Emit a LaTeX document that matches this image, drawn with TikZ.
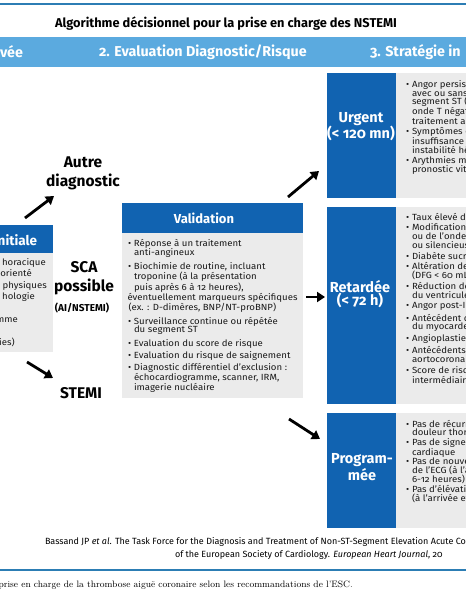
\documentclass[tikz,border=0pt]{standalone}
\usepackage{fontspec}
\setsansfont{Fira Sans}[Numbers=OldStyle]
\newfontfamily\lstfont{Fira Sans}[Numbers=OldStyle, FakeStretch=1.08]
\usetikzlibrary{arrows.meta}
\definecolor{band}{HTML}{5BAADF}
\definecolor{dblue}{HTML}{1163B1}
\definecolor{lgray}{HTML}{EBEBEB}
\definecolor{rule}{HTML}{2C7DB4}
\newcommand{\bu}{\makebox[6pt][l]{•}}
\newcommand{\ct}{\hspace*{6pt}}
\begin{document}
\begin{tikzpicture}[x=1pt,y=-1pt,
  every node/.style={inner sep=0pt, outer sep=0pt},
  bigarrow/.style={line width=2.8pt, -{Triangle[length=8pt,width=10pt]}},
  lst/.style={anchor=north west, align=left, font=\lstfont\fontsize{8.9}{8.7}\selectfont, text=black!90},
  boxlabel/.style={font=\sffamily\bfseries\fontsize{14.5}{13.5}\selectfont, text=white, align=center},
  flowlabel/.style={font=\sffamily\bfseries\fontsize{15.5}{19}\selectfont, align=center},
  bandtext/.style={font=\sffamily\bfseries\fontsize{14.3}{14}\selectfont, text=white},
  panel/.style={anchor=north west, fill=#1},
]
\useasboundingbox (0,0) rectangle (466,600);
\clip (0,0) rectangle (466,600);
\fill[white] (0,0) rectangle (466,600);
% top rule and title
\draw[rule, line width=2pt] (0,4) -- (466,4);
\node[font=\sffamily\bfseries\fontsize{12.8}{13}\selectfont] (title) at (226,24) {Algorithme décisionnel pour la prise en charge des NSTEMI};
% header band
\node[panel=band, minimum width=466, minimum height=30] (band) at (0,37) {};
\node[bandtext, anchor=west] (h1) at (0,52) {vée};
\node[bandtext, anchor=west] (h2) at (99,52) {2. Evaluation Diagnostic/Risque};
\node[bandtext, anchor=west] (h3) at (370,52) {3. Stratégie in};
% left box
\node[panel=dblue, minimum width=53, minimum height=28] (inihead) at (0,225) {};
\node[panel=lgray, minimum width=53, minimum height=99] (inibody) at (0,253) {};
\node[font=\sffamily\bfseries\fontsize{13.5}{13}\selectfont, text=white, anchor=east] (initxt) at (37,240) {nitiale};
\begin{scope}[every node/.style={inner sep=0pt, font=\lstfont\fontsize{8.9}{8.7}\selectfont, text=black!90, anchor=base east}]
\node (i1) at (46,265.5) {horacique};
\node (i2) at (32,276.5) {orienté};
\node (i3) at (47,288) {s physiques};
\node (i4) at (35,299.5) {hologie};
\node (i5) at (18,322.5) {mme};
\node (i6) at (15,345.5) {ies)};
\end{scope}
% flow labels
\node[flowlabel] (autre) at (83,173.5) {Autre\\diagnostic};
\node[flowlabel] (sca) at (84,278) {SCA\\possible};
\node[font=\sffamily\bfseries\fontsize{10}{10}\selectfont] (ai) at (82,308) {(AI/NSTEMI)};
\node[flowlabel] (stemi) at (81,393) {STEMI};
% arrows
\coordinate (a1s) at (25,218); \coordinate (a1e) at (54,196);
\coordinate (a2s) at (27,362); \coordinate (a2e) at (53,378);
\coordinate (a3s) at (306,297); \coordinate (a3e) at (325,297);
\coordinate (a4s) at (288,197); \coordinate (a4e) at (319,171);
\coordinate (a5s) at (289,419); \coordinate (a5e) at (320,439);
\draw[bigarrow] (a1s) -- (a1e);
\draw[bigarrow] (a2s) -- (a2e);
\draw[bigarrow] (a3s) -- (a3e);
\draw[bigarrow] (a4s) -- (a4e);
\draw[bigarrow] (a5s) -- (a5e);
% validation box
\node[panel=dblue, minimum width=181, minimum height=30] (valhead) at (122,203) {};
\node[panel=lgray, minimum width=181, minimum height=165] (valbody) at (122,233) {};
\node[font=\sffamily\bfseries\fontsize{13}{13}\selectfont, text=white] (valtxt) at (204,218) {Validation};
\node[lst] (vallist) at (128,239) {\bu Réponse à un traitement\\
\ct anti-angineux\\[3.8pt]
\bu Biochimie de routine, incluant\\
\ct troponine (à la présentation\\
\ct puis après 6 à 12 heures),\\
\hspace*{-0.5pt}éventuellement marqueurs spécifiques\\
\hspace*{0.5pt}(ex. : D-dimères, BNP/NT-proBNP)\\[3.8pt]
\bu Surveillance continue ou répétée\\
\ct du segment ST\\[3.8pt]
\bu Evaluation du score de risque\\[1.8pt]
\bu Evaluation du risque de saignement\\[1.8pt]
\bu Diagnostic différentiel d’exclusion :\\
\ct échocardiogramme, scanner, IRM,\\
\ct imagerie nucléaire};
% urgent
\node[panel=dblue, minimum width=69, minimum height=125] (urgbox) at (327,73) {};
\node[panel=lgray, minimum width=70, minimum height=125] (urgbody) at (396,73) {};
\node[boxlabel] (urgtxt) at (361,126.5) {Urgent\\(< 120 mn)};
\node[lst] (urglist) at (406,80.5) {\bu Angor persist\\
\ct avec ou sans\\
\ct segment ST (\\
\ct onde T négati\\
\ct traitement an\\[1.2pt]
\bu Symptômes c\\
\ct insuffisance c\\
\ct instabilité hé\\[1.2pt]
\bu Arythmies m\\
\ct pronostic vita};
% retardee
\node[panel=dblue, minimum width=69, minimum height=197] (retbox) at (327,207) {};
\node[panel=lgray, minimum width=70, minimum height=197] (retbody) at (396,207) {};
\node[boxlabel] (rettxt) at (360,294) {Retardée\\(< 72 h)};
\node[lst] (retlist) at (406,213) {\bu Taux élevé de\\[2.1pt]
\bu Modifications\\
\ct ou de l’onde T\\
\ct ou silencieuse\\[2.1pt]
\bu Diabète sucré\\[2.1pt]
\bu Altération de\\
\ct (DFG < 60 mL\\[2.1pt]
\bu Réduction de\\
\ct du ventricule\\[2.1pt]
\bu Angor post-ID\\[2.1pt]
\bu Antécédent d\\
\ct du myocarde\\[2.1pt]
\bu Angioplastie\\[2.1pt]
\bu Antécédents\\
\ct aortocoronair\\[2.1pt]
\bu Score de risqu\\
\ct intermédiaire};
% programmee
\node[panel=dblue, minimum width=69, minimum height=115] (probox) at (327,413) {};
\node[panel=lgray, minimum width=70, minimum height=115] (probody) at (396,413) {};
\node[boxlabel] (protxt) at (362,467) {Program-\\mée};
\node[lst] (prolist) at (406,420) {\bu Pas de récurre\\
\ct douleur thora\\[0.7pt]
\bu Pas de signe\\
\ct cardiaque\\[0.7pt]
\bu Pas de nouve\\
\ct de l’ECG (à l’a\\
\ct 6-12 heures)\\[0.7pt]
\bu Pas d’élévatio\\
\ct (à l’arrivée et};
% citation
\node[font=\sffamily\fontsize{9}{9}\selectfont, anchor=base west] (cit1) at (45,544.5) {Bassand JP \textit{et al}. The Task Force for the Diagnosis and Treatment of Non-ST-Segment Elevation Acute Co};
\node[font=\sffamily\fontsize{9}{9}\selectfont, anchor=base west] (cit2) at (175,557.5) {of the European Society of Cardiology. \textit{European Heart Journal}, 20};
\draw[rule, line width=2pt] (0,570) -- (466,570);
\node[font=\rmfamily\fontsize{9.25}{9}\selectfont, anchor=base west] (caption) at (-1.5,587.5) {prise en charge de la thrombose aiguë coronaire selon les recommandations de l’ESC.};
\end{tikzpicture}
\end{document}
